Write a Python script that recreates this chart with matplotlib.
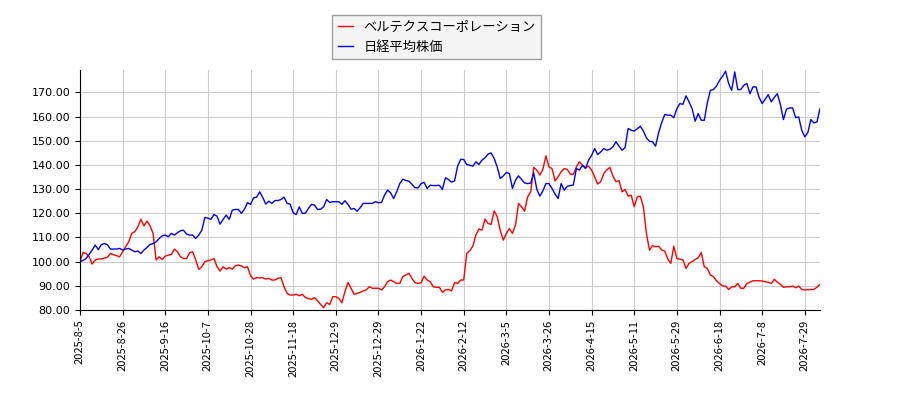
import matplotlib
matplotlib.use("Agg")
import matplotlib.pyplot as plt
from matplotlib.ticker import FormatStrFormatter

plt.rcParams['font.family'] = ['Noto Sans CJK JP', 'DejaVu Sans']

series_names = ["ベルテクスコーポレーション", "日経平均株価"]

tick_labels = ["2025-8-5", "2025-8-26", "2025-9-16", "2025-10-7", "2025-10-28",
               "2025-11-18", "2025-12-9", "2025-12-29", "2026-1-22", "2026-2-12",
               "2026-3-5", "2026-3-26", "2026-4-15", "2026-5-11", "2026-5-29",
               "2026-6-18", "2026-7-8", "2026-7-29"]

company = [
    100.0, 103.8, 103.4, 102.0, 99.0, 100.7, 101.1, 101.1, 101.5, 101.8,
    103.4, 102.9, 102.5, 102.0, 104.1, 106.2, 108.2, 111.7, 112.4, 114.4,
    117.5, 114.8, 116.8, 114.8, 111.7, 100.7, 102.0, 100.9, 102.3, 102.7,
    103.0, 105.2, 104.1, 102.0, 101.3, 101.3, 103.7, 104.1, 100.7, 96.8,
    97.9, 100.0, 100.4, 100.7, 101.3, 97.9, 96.1, 97.9, 96.9, 97.6,
    96.9, 98.3, 98.6, 98.2, 97.5, 97.9, 94.2, 92.8, 93.4, 93.3,
    93.4, 92.8, 93.1, 92.4, 92.4, 93.1, 93.4, 89.6, 86.9, 86.2,
    86.2, 86.5, 85.9, 86.5, 85.2, 84.7, 84.4, 85.1, 83.9, 82.3,
    81.0, 83.0, 82.3, 85.5, 85.5, 84.8, 83.0, 87.6, 91.4, 89.0,
    86.5, 86.9, 87.3, 87.9, 88.3, 89.6, 89.0, 89.0, 89.0, 88.3,
    89.6, 91.7, 92.4, 91.7, 91.0, 91.0, 93.8, 94.5, 95.2, 93.1,
    91.3, 91.0, 91.3, 94.0, 92.4, 91.7, 89.6, 89.4, 89.4, 87.3,
    88.3, 88.5, 87.9, 91.3, 91.0, 92.4, 92.4, 103.4, 104.5, 106.4,
    111.0, 113.5, 113.0, 117.6, 115.8, 115.4, 121.0, 118.6, 113.0, 108.9,
    111.7, 113.7, 111.7, 115.1, 124.1, 122.7, 120.9, 126.8, 128.9, 139.0,
    137.9, 135.8, 138.2, 143.8, 139.2, 138.5, 133.4, 135.1, 137.2, 138.5,
    138.2, 136.2, 136.1, 139.2, 141.3, 139.9, 139.0, 139.5, 137.9, 135.1,
    132.1, 133.1, 136.5, 138.0, 139.0, 135.4, 133.1, 133.5, 128.9, 129.9,
    127.1, 127.5, 122.7, 126.8, 127.1, 122.7, 111.7, 104.8, 106.6, 106.2,
    106.4, 104.8, 104.4, 101.1, 99.3, 106.4, 101.3, 101.0, 100.7, 97.2,
    99.3, 100.0, 100.9, 101.6, 103.8, 97.9, 97.2, 94.5, 93.8, 92.1,
    91.0, 89.9, 89.9, 88.5, 89.6, 89.6, 91.0, 89.0, 89.0, 91.0,
    91.5, 92.1, 92.1, 92.1, 92.0, 91.7, 91.5, 91.0, 92.7, 91.5,
    90.6, 89.4, 89.6, 89.6, 89.9, 89.2, 89.9, 88.5, 88.3, 88.4,
    88.5, 88.5, 89.4, 90.6,
]

nikkei = [
    100.0, 100.5, 101.3, 103.0, 104.8, 106.9, 105.0, 107.0, 107.5, 107.0,
    105.2, 105.2, 105.2, 105.5, 104.8, 105.2, 105.5, 104.8, 104.1, 104.4,
    103.4, 104.8, 105.9, 107.1, 107.5, 108.2, 109.6, 110.7, 111.0, 110.3,
    111.7, 111.0, 112.0, 112.8, 113.0, 111.4, 111.0, 111.0, 109.6, 111.0,
    113.0, 118.3, 118.0, 117.5, 119.5, 118.8, 115.5, 117.5, 119.3, 117.5,
    121.3, 121.6, 121.6, 120.0, 121.7, 124.4, 123.7, 126.4, 126.7, 128.9,
    126.6, 123.8, 125.0, 124.1, 125.3, 125.3, 125.7, 126.7, 124.1, 123.8,
    120.2, 119.5, 122.7, 120.0, 120.0, 122.0, 123.7, 123.4, 121.6, 121.7,
    122.7, 125.7, 124.5, 124.8, 124.8, 124.8, 123.7, 125.2, 123.7, 121.7,
    122.0, 120.9, 122.3, 124.1, 124.1, 124.1, 124.1, 124.8, 124.4, 124.5,
    127.5, 129.6, 128.5, 126.1, 128.9, 132.3, 134.1, 133.6, 133.3, 132.0,
    130.6, 130.5, 132.3, 132.8, 130.3, 131.6, 131.5, 131.5, 131.6, 129.9,
    134.7, 134.0, 132.9, 133.4, 139.5, 142.3, 142.3, 140.2, 139.9, 139.5,
    141.3, 140.2, 142.0, 143.0, 144.5, 145.0, 142.7, 139.2, 134.4, 135.5,
    136.9, 136.5, 130.3, 133.7, 135.5, 134.0, 132.6, 132.3, 132.5, 136.7,
    130.0, 127.1, 129.3, 132.3, 132.3, 130.3, 128.0, 126.1, 132.3, 129.6,
    131.2, 131.5, 131.7, 138.5, 137.9, 139.9, 138.5, 142.0, 144.0, 146.8,
    144.3, 145.4, 146.8, 146.1, 146.5, 147.5, 149.6, 147.8, 146.1, 147.2,
    155.1, 154.4, 154.0, 155.0, 156.0, 154.1, 151.2, 149.8, 149.6, 147.8,
    153.3, 157.5, 160.9, 160.6, 160.6, 159.6, 163.3, 165.4, 165.1, 168.6,
    166.1, 163.3, 158.1, 161.3, 158.5, 158.5, 165.7, 170.9, 171.2, 172.6,
    175.0, 176.7, 178.8, 173.7, 170.9, 178.5, 171.2, 171.2, 173.0, 173.7,
    169.5, 172.3, 172.3, 168.0, 165.4, 167.2, 169.1, 166.1, 168.0, 169.5,
    165.0, 158.8, 163.1, 163.6, 163.6, 159.6, 159.9, 154.4, 151.6, 153.4,
    158.8, 157.4, 157.8, 163.3,
]

tick_step = 14

fig = plt.figure(figsize=(9, 4), dpi=100)
ax = fig.add_axes([80/900, 1 - 310/400, 740/900, 240/400])

x = list(range(len(company)))
l1, = ax.plot(x, company, color='red', linewidth=1, label=series_names[0])
l2, = ax.plot(x, nikkei, color='blue', linewidth=1, label=series_names[1])

ax.set_xlim(0, len(company) - 1)
ax.set_ylim(80, max(max(company), max(nikkei)) + 0.5)
ax.set_yticks(range(80, 171, 10))
ax.yaxis.set_major_formatter(FormatStrFormatter('%.2f'))
ax.set_xticks(range(0, tick_step * len(tick_labels), tick_step))
ax.set_xticklabels(tick_labels, rotation=90)
ax.tick_params(labelsize=8)
for lab in ax.get_yticklabels():
    lab.set_family(['DejaVu Sans'])
ax.grid(True, color='#cccccc', linewidth=0.8)
ax.set_axisbelow(True)
for s in ['top', 'right']:
    ax.spines[s].set_visible(False)

leg = fig.legend(handles=[l1, l2], loc='upper center', bbox_to_anchor=(0.485, 0.978),
                 fontsize=9.5, frameon=True, fancybox=False, edgecolor='#888888',
                 handlelength=1.2, handletextpad=0.75, borderpad=0.4, labelspacing=0.55)
leg.get_frame().set_facecolor('#f2f2f2')

fig.savefig('out.png', dpi=100)
